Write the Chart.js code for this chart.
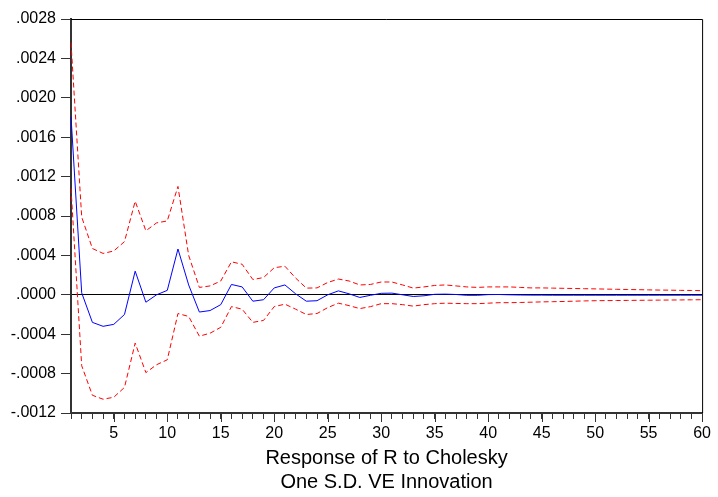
<!DOCTYPE html>
<html>
<head>
<meta charset="utf-8">
<script src="https://cdn.jsdelivr.net/npm/chart.js@4.4.1/dist/chart.umd.min.js"></script>
<style>
  html, body { margin: 0; padding: 0; background: #fff; }
  #wrap { width: 718px; height: 497px; }
</style>
</head>
<body>
<div id="wrap"><canvas id="chart"></canvas></div>
<script>
// impulse response periods and bands
const periods = Array.from({ length: 60 }, (_, i) => i + 1);

const response = [
  0.00181, 0.00002, -0.00028, -0.00032, -0.0003, -0.0002, 0.00024, -0.000075, 0.0, 0.000045,
  0.000465, 0.0001, -0.000175, -0.00016, -0.0001, 0.000105, 0.00008, -0.000065, -0.00005, 0.00007,
  0.0001, 0.00001, -0.000065, -0.00006, 0.0, 0.00004, 0.00001, -0.000027, -0.000005, 0.000015,
  0.000017, 0.0, -0.000017, -0.00001, 0.000005, 0.000007, 0.000003, -0.000005, -0.000005, 0.000002,
  0.000003, 0.0, -0.000002, -0.000003, -0.000003, -0.000004, -0.000004, -0.000004, -0.000004, -0.000004,
  -0.000004, -0.000004, -0.000004, -0.000004, -0.000004, -0.000004, -0.000004, -0.000004, -0.000004, -0.000004
];

const upperBand = [
  0.00256, 0.00079, 0.00047, 0.00042, 0.000445, 0.00054, 0.00095, 0.00065, 0.00073, 0.00075,
  0.0011, 0.0004, 0.000075, 0.00009, 0.00014, 0.000335, 0.00031, 0.000155, 0.000175, 0.000275,
  0.00029, 0.00017, 0.000068, 0.00007, 0.000125, 0.00016, 0.00014, 0.0001, 0.000105, 0.00013,
  0.00013, 0.0001, 0.000068, 0.00008, 0.000095, 0.0001, 0.00009, 0.00008, 0.000075, 0.00008,
  0.00008, 0.00008, 0.000075, 0.00007, 0.00007, 0.000068, 0.000066, 0.000064, 0.000062, 0.00006,
  0.000058, 0.000056, 0.000054, 0.000052, 0.00005, 0.000048, 0.000047, 0.000045, 0.000044, 0.000042
];

const lowerBand = [
  0.00108, -0.00072, -0.00102, -0.00106, -0.00104, -0.00094, -0.00049, -0.00079, -0.00071, -0.00066,
  -0.00019, -0.00022, -0.00042, -0.00039, -0.00033, -0.00012, -0.000146, -0.00028, -0.00026, -0.00012,
  -0.000095, -0.000146, -0.0002, -0.00019, -0.00013, -0.000085, -0.00011, -0.00014, -0.00012, -0.00009,
  -0.00009, -0.0001, -0.000115, -0.0001, -0.00009, -0.000085, -0.000088, -0.00009, -0.00009, -0.000085,
  -0.00008, -0.00008, -0.000078, -0.000075, -0.000072, -0.00007, -0.000068, -0.000065, -0.000062, -0.00006,
  -0.000059, -0.000058, -0.000057, -0.000056, -0.000055, -0.000054, -0.000053, -0.000052, -0.000051, -0.00005
];

const yTicks = [-0.0012, -0.0008, -0.0004, 0, 0.0004, 0.0008, 0.0012, 0.0016, 0.002, 0.0024, 0.0028];
const xLabelStep = 5;
const titleLines = ["Response of R to Cholesky", "One S.D. VE Innovation"];

const FONT = "'Liberation Sans', Arial, sans-serif";

function fmtTick(v) {
  if (Math.abs(v) < 1e-12) return ".0000";
  const s = Math.abs(v).toFixed(4).replace(/^0/, "");
  return (v < 0 ? "-" : "") + s;
}

// box round the plot and longer ticks every fifth period
const framePlugin = {
  id: "frame",
  afterDraw(chart) {
    const { ctx, chartArea: a } = chart;
    const xs = chart.scales.x;
    ctx.save();
    ctx.strokeStyle = "#000";
    ctx.lineWidth = 1;
    ctx.beginPath();
    ctx.moveTo(a.left, a.top + 0.5);
    ctx.lineTo(a.right + 0.5, a.top + 0.5);
    ctx.lineTo(a.right + 0.5, a.bottom);
    ctx.stroke();

    ctx.strokeStyle = "#333";
    ctx.beginPath();
    periods.forEach((p, i) => {
      if (p % xLabelStep !== 0) return;
      const x = Math.round(xs.getPixelForTick(i)) + 0.5;
      ctx.moveTo(x, a.bottom);
      ctx.lineTo(x, a.bottom + 9);
    });
    ctx.stroke();
    ctx.restore();
  },
};

const ctx = document.getElementById("chart").getContext("2d");
new Chart(ctx, {
  type: "line",
  data: {
    labels: periods,
    datasets: [
      {
        data: upperBand,
        borderColor: "#ff0000",
        borderWidth: 1,
        borderDash: [5, 3],
        pointRadius: 0,
        tension: 0,
      },
      {
        data: lowerBand,
        borderColor: "#ff0000",
        borderWidth: 1,
        borderDash: [5, 3],
        pointRadius: 0,
        tension: 0,
      },
      {
        data: response,
        borderColor: "#0000ff",
        borderWidth: 1,
        pointRadius: 0,
        tension: 0,
      },
    ],
  },
  options: {
    responsive: true,
    maintainAspectRatio: false,
    animation: false,
    events: [],
    layout: { padding: { top: 19, right: 13, bottom: 3, left: 0 } },
    plugins: {
      legend: { display: false },
      tooltip: { enabled: false },
    },
    scales: {
      x: {
        type: "category",
        offset: false,
        grid: {
          drawOnChartArea: false,
          tickLength: 6,
          tickColor: "#333",
        },
        border: { color: "#333", width: 2 },
        ticks: {
          autoSkip: false,
          maxRotation: 0,
          padding: 7,
          color: "#000",
          font: { family: FONT, size: 16, lineHeight: 1.0 },
          callback: (v, i) => (periods[i] % xLabelStep === 0 ? String(periods[i]) : ""),
        },
        title: {
          display: true,
          text: titleLines,
          color: "#000",
          font: { family: FONT, size: 20, lineHeight: 1.2 },
          padding: { top: -3, bottom: 0 },
        },
      },
      y: {
        min: yTicks[0],
        max: yTicks[yTicks.length - 1],
        afterBuildTicks: (scale) => {
          scale.ticks = yTicks.map((v) => ({ value: v }));
        },
        afterFit: (scale) => {
          scale.width = 71;
        },
        grid: {
          drawOnChartArea: true,
          color: (c) => (c.tick && c.tick.value === 0 ? "#000" : "rgba(0,0,0,0)"),
          tickColor: "#333",
          tickLength: 10,
        },
        border: { color: "#333", width: 2 },
        ticks: {
          padding: 5,
          color: "#000",
          font: { family: FONT, size: 16 },
          callback: (v) => fmtTick(v),
        },
      },
    },
  },
  plugins: [framePlugin],
});
</script>
</body>
</html>
